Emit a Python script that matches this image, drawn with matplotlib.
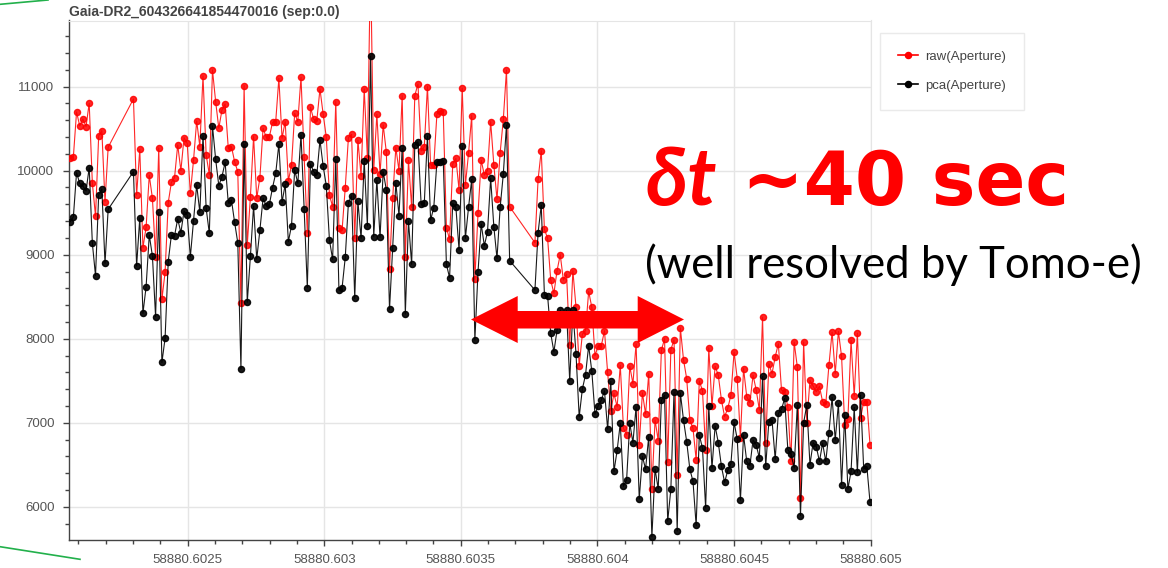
import matplotlib
matplotlib.use("Agg")
import matplotlib.pyplot as plt
from matplotlib.lines import Line2D
from matplotlib.patches import Polygon
from matplotlib.ticker import MultipleLocator, FormatStrFormatter

W, H = 1168, 568

# MJD of first frame, ~1 s cadence; three runs of frames with two gaps
T0 = 58880.60207
frame_start = [0, 20, 147]

raw_a = [10147, 10167, 10698, 10532, 10615, 10524, 10802, 9849, 9460, 10413,
         10476, 9631, 10278]
pca_a = [9393, 9452, 9976, 9849, 9817, 9758, 10036, 9135, 8750, 9710,
         9782, 8897, 9540]

raw_b = [10853, 9710, 10254, 9083, 9325, 9944, 9671, 8976, 10270, 8468,
         8790, 9619, 9861, 9917, 10306, 10000, 10393, 10325, 9730, 10123,
         10591, 10286, 11127, 10186, 9952, 11198, 10821, 10504, 10722, 10794,
         10266,
         10286, 10107, 9988, 8421, 11012, 9115, 9690, 10405, 9671, 9917,
         10504, 10397, 10405, 10575, 10583, 11099, 10385, 10583, 9877, 10067,
         10683, 10583, 11111, 10159, 9262, 10754, 10611, 10595, 10972, 10675,
         10397, 9710, 9571, 10821, 9313, 9294, 9798, 10393, 10433, 9194,
         10365, 9936, 10972, 10155, 12500, 10008, 10671, 9960, 10544, 10218,
         8825,
         9671, 10274, 10000, 10893, 8968, 10123, 9563, 10893, 11032, 10234,
         10286, 11000, 10067, 10067, 10675, 10714, 10694, 9321, 9183, 10079,
         10147, 9770, 10980, 9829, 10206, 10655, 8706, 9492, 10123, 9948,
         10000, 10583, 10067, 9659, 10214, 10611, 11198, 9571]
pca_b = [9988, 8865, 9440, 8302, 8619, 9234, 8984, 8262, 9504, 7718,
         8004, 8917, 9234, 9226, 9425, 9262, 9520, 9472, 8976, 9401,
         9829, 9504, 10417, 9552, 9254, 10532, 10135, 9821, 9929, 10099,
         9611,
         9651, 9385, 9143, 7639, 10313, 8433, 8984, 9579, 8948, 9294,
         9671, 9583, 9599, 9798, 9968, 10317, 9623, 9837, 9155, 9345,
         10008, 9849, 10425, 9540, 8607, 10079, 9988, 9948, 10365, 10056,
         9821, 9175, 8944, 10135, 8579, 8607, 8968, 9619, 9702, 8480,
         9639, 9194, 10119, 9341, 11365, 9214, 9889, 9206, 9988, 9770,
         8349,
         9083, 9857, 9464, 10266, 8294, 9401, 8885, 10306, 10345, 9603,
         9611, 10413, 9413, 9560, 10107, 10107, 10119, 8885, 8726, 9611,
         9563, 9056, 10298, 9194, 9563, 9897, 7984, 8798, 9365, 9107,
         9274, 9909, 9333, 8956, 9563, 9960, 10544, 8929]

raw_c = [9143, 9897, 10238, 9300,
         9198, 8698, 8540, 8810, 9000, 8698, 8770, 7925, 8810, 8373,
         7679, 8056, 8095, 8563, 8373, 7798, 7917, 7917, 8095, 7599, 7143,
         7349, 7191, 7684, 6935, 6856, 7673, 7467, 7941, 6738, 7357,
         7105, 7586, 6213, 7034, 6789, 7862, 8000, 6529, 7870, 7988,
         6383, 8130, 7751, 7527, 7034, 6935, 6560, 7499, 7381, 6679,
         7893, 7199, 7673, 7566, 7270, 7073, 7172, 7329, 7842, 7527,
         6817, 7645, 7310, 7239, 7566, 7389, 7152, 8256, 6765, 7704,
         7586, 7783, 7941, 7389, 7369, 7191, 6540, 7961, 7665, 6107,
         7961, 6994, 7507, 7436, 7369, 7436, 7250, 7223, 7684, 8079,
         7586, 8087, 7791, 6974, 7041, 7980, 7318, 8067, 7053, 7250,
         7250, 6738]
pca_c = [8579, 9262, 9591, 8520,
         8512, 8063, 7845, 8103, 8341, 8254, 8341, 7500, 8341, 7817,
         7071, 7401, 7571, 7917, 7611, 7103, 7202, 7270, 7381, 6925, 7492,
         6422, 6671, 6994, 6245, 6323, 6994, 6765, 7191, 6095, 6600,
         6450, 6836, 5645, 6450, 6213, 7270, 7329, 5830, 6213, 7369,
         5712, 7357, 7034, 6777, 6450, 6304, 5779, 6856, 6698, 5988,
         7199, 6462, 6963, 6765, 6481, 6292, 6434, 6513, 7006, 6805,
         6079, 6856, 6540, 6489, 6797, 6738, 6580, 7554, 6481, 7014,
         7034, 6568, 7112, 7160, 7290, 6679, 6631, 6462, 7211, 5897,
         7002, 7211, 6501, 6765, 6718, 6540, 6757, 6540, 6884, 7302,
         6797, 7231, 6264, 7093, 6213, 6422, 7183, 6410, 7329, 6450,
         6481, 6055]

raw = raw_a + raw_b + raw_c
pca = pca_a + pca_b + pca_c
frames = []
for start, seg in zip(frame_start, [raw_a, raw_b, raw_c]):
    frames += [start + i for i in range(len(seg))]
mjd = [T0 + f / 86400.0 for f in frames]

fig = plt.figure(figsize=(W / 100, H / 100), dpi=100)
ax = fig.add_axes([69 / W, 1 - 539.5 / H, (870.5 - 69) / W, (539.5 - 20.5) / H])

ax.plot(mjd, raw, color="red", lw=0.8, alpha=0.85, marker="o", ms=4.4,
        mfc="red", mec="red", zorder=3)
ax.plot(mjd, pca, color="black", lw=0.8, alpha=0.9, marker="o", ms=4.4,
        mfc="black", mec="black", zorder=4)

ax.set_xlim(58880.6020655, 58880.605)
ax.set_ylim(5612, 11786)

ax.xaxis.set_major_locator(MultipleLocator(0.0005))
ax.xaxis.set_minor_locator(MultipleLocator(0.0001))
ax.yaxis.set_major_locator(MultipleLocator(1000))
ax.yaxis.set_minor_locator(MultipleLocator(200))
ax.yaxis.set_major_formatter(FormatStrFormatter("%d"))
ax.set_xticks([58880.6025, 58880.603, 58880.6035, 58880.604, 58880.6045, 58880.605])
ax.set_xticklabels(["58880.6025", "58880.603", "58880.6035", "58880.604",
                    "58880.6045", "58880.605"])

for s in ["top", "right"]:
    ax.spines[s].set_color("#e5e5e5")
for s in ["left", "bottom"]:
    ax.spines[s].set_color("#444444")
    ax.spines[s].set_linewidth(1.0)
ax.grid(True, which="major", color="#e5e5e5", lw=1.0)
ax.set_axisbelow(True)
ax.tick_params(which="major", direction="out", length=4.5, width=1,
               color="#444444", labelsize=9.5, labelcolor="#555555", pad=6)
ax.tick_params(which="minor", direction="out", length=3, width=1, color="#444444")
for lab in ax.get_xticklabels() + ax.get_yticklabels():
    lab.set_family("Liberation Sans")

fig.text(69 / W, 1 - 12 / H, "Gaia-DR2_604326641854470016 (sep:0.0)",
         family="Liberation Sans", weight="bold", fontsize=10, color="#444444",
         ha="left", va="center")

handles = [Line2D([], [], color="red", marker="o", ms=4.4, lw=1.2),
           Line2D([], [], color="black", marker="o", ms=4.4, lw=1.2)]
leg = fig.legend(handles, ["raw(Aperture)", "pca(Aperture)"],
                 loc="upper left", bbox_to_anchor=(880 / W, 1 - 33 / H),
                 prop={"family": "Liberation Sans", "size": 9.5},
                 frameon=True, fancybox=False, edgecolor="#e5e5e5",
                 handlelength=1.5, handletextpad=0.6, labelspacing=1.25,
                 borderpad=1.35, borderaxespad=0)
for t in leg.get_texts():
    t.set_color("#444444")

# slide annotations
fig.text(645 / W, 1 - 205 / H, "\u03b4t", family="Lato", weight="bold",
         style="italic", fontsize=58, color="red", ha="left", va="baseline")
fig.text(742 / W, 1 - 205 / H, "~40 sec", family="DejaVu Sans", weight="bold",
         fontsize=53, color="red", ha="left", va="baseline")
fig.text(645 / W, 1 - 278 / H, "(well resolved by Tomo-e)", family="Lato",
         fontsize=31.5, color="black", ha="left", va="baseline")

arrow_px = [(471, 319.5), (517.7, 296), (517.7, 311), (637.7, 311), (637.7, 296),
            (684, 319.5), (637.7, 343), (637.7, 328.5), (517.7, 328.5), (517.7, 343)]
fig.patches.append(Polygon([(x / W, 1 - y / H) for x, y in arrow_px], closed=True,
                           facecolor="red", edgecolor="none",
                           transform=fig.transFigure, figure=fig, zorder=10))

fig.add_artist(Line2D([0, 48 / W], [1 - 4.3 / H, 1], color="#22b04b", lw=1.2,
                      transform=fig.transFigure))
fig.add_artist(Line2D([0, 80 / W], [1 - 546.7 / H, 1 - 559.3 / H], color="#22b04b",
                      lw=1.2, transform=fig.transFigure))

fig.savefig("out.png", dpi=100)
